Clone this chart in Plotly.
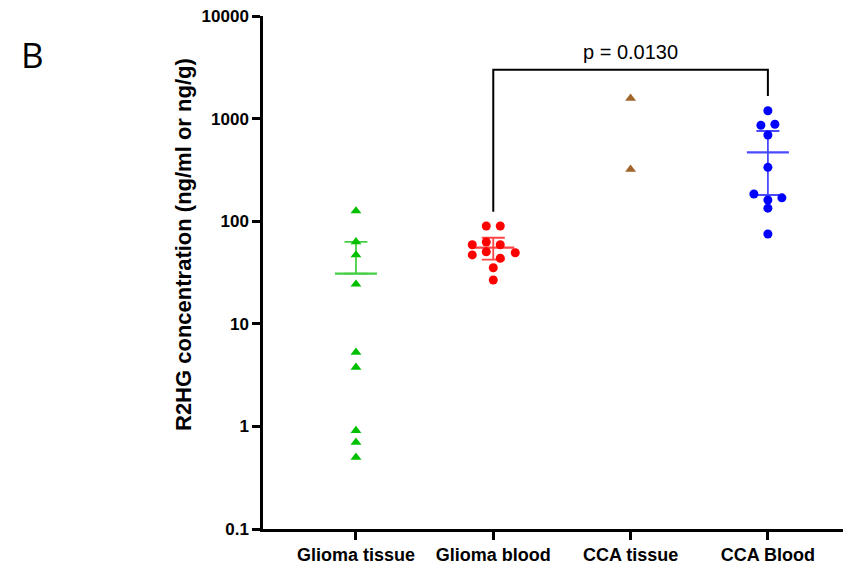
import math
import plotly.graph_objects as go

# ---------------- data ----------------
categories = ["Glioma tissue", "Glioma blood", "CCA tissue", "CCA Blood"]
glioma_tissue = [126, 63, 46.9, 24.3, 5.27, 3.77, 0.91, 0.70, 0.50]
glioma_blood = [89.8, 89.8, 62.7, 59, 59, 50.4, 49.3, 46.9, 43.5, 35.2, 26.7]
cca_tissue = [1577, 320]
cca_blood = [1194, 880, 861, 692, 335, 184, 169, 161, 134, 75]

# mean and 95% CI bounds (None = not drawn)
means = [30.8, 55.2, None, 469]
ci_upper = [63, 69, None, 757]
ci_lower = [None, 42.2, None, 180]

y_tick_values = [0.1, 1, 10, 100, 1000, 10000]
y_tick_labels = ["0.1", "1", "10", "100", "1000", "10000"]
y_title = "R2HG concentration (ng/ml or ng/g)"
p_label = "p = 0.0130"
panel_label = "B"

# ---------------- layout / style ----------------
PX_PER_CAT = 137.3
jitter_px = [
    [0] * len(glioma_tissue),
    [-7, 7, -7, -21, 7, -7, 22, -21, 7, 0, 0],
    [0, 0],
    [0, 7, -7, 0, 0, -14, 14, 0, 0, 0],
]
groups = [glioma_tissue, glioma_blood, cca_tissue, cca_blood]
marker_colors = ["#00C000", "#FF0000", "#A0652A", "#0000FF"]
err_colors = ["#45cf45", "#ff4545", "#A0652A", "#4a4aff"]
symbols = ["triangle-up", "circle", "triangle-up", "circle"]
sizes = [9.5, 9, 9.5, 9]

FONT = "Liberation Sans, Arial, sans-serif"
W, H = 843, 570
L, R, T, B = 263, 0, 16, 41
pw, ph = W - L - R, H - T - B


def px_x(px):
    return (px - L) / pw


def px_y(py):
    return (H - B - py) / ph


fig = go.Figure()

# error bars + mean lines
for i, m in enumerate(means):
    if m is None:
        continue
    up = ci_upper[i] - m
    lo = (m - ci_lower[i]) if ci_lower[i] is not None else 0
    fig.add_trace(go.Scatter(
        x=[i], y=[m], mode="markers",
        marker=dict(symbol="line-ew", size=30,
                    line=dict(color=err_colors[i], width=2.2)),
        error_y=dict(type="data", symmetric=False, array=[up], arrayminus=[lo],
                     color=err_colors[i], thickness=1.8, width=11.5),
        showlegend=False, hoverinfo="skip",
    ))

# points
for i, vals in enumerate(groups):
    xs = [i + j / PX_PER_CAT for j in jitter_px[i]]
    fig.add_trace(go.Scatter(
        x=xs, y=vals, mode="markers",
        marker=dict(symbol=symbols[i], size=sizes[i], color=marker_colors[i],
                    line=dict(width=0)),
        showlegend=False, name=categories[i],
    ))

# significance bracket
br_top = 3000
br_left_bottom = max(glioma_blood) * 1.38
br_right_bottom = max(cca_blood) * 1.39
fig.add_trace(go.Scatter(
    x=[1, 1, 3, 3], y=[br_left_bottom, br_top, br_top, br_right_bottom],
    mode="lines", line=dict(color="black", width=2),
    showlegend=False, hoverinfo="skip",
))

fig.add_annotation(
    x=2, y=math.log10(br_top), xref="x", yref="y",
    text=p_label, showarrow=False, yanchor="bottom", yshift=5,
    font=dict(family=FONT, size=20, color="black"),
)
fig.add_annotation(
    x=px_x(19), y=px_y(54), xref="paper", yref="paper", text=panel_label,
    showarrow=False, xanchor="left", yanchor="middle",
    font=dict(family="Open Sans, " + FONT, size=35, color="black"),
)
fig.add_annotation(
    x=px_x(183), y=px_y(245), xref="paper", yref="paper", text=y_title,
    showarrow=False, textangle=-90, xanchor="center", yanchor="middle",
    font=dict(family=FONT, size=22, color="black", weight="bold"),
)

fig.update_layout(
    width=W, height=H,
    margin=dict(l=L, r=R, t=T, b=B),
    paper_bgcolor="white", plot_bgcolor="white",
    font=dict(family=FONT, color="black"),
    xaxis=dict(
        range=[-0.677, 3.547], tickvals=[0, 1, 2, 3], ticktext=categories,
        showline=True, linecolor="black", linewidth=2.5,
        ticks="outside", ticklen=8, tickwidth=2.5, tickcolor="black",
        tickfont=dict(family=FONT, size=18, color="black", weight="bold"),
        showgrid=False, zeroline=False,
    ),
    yaxis=dict(
        type="log", range=[-1, 4],
        tickvals=y_tick_values, ticktext=y_tick_labels,
        showline=True, linecolor="black", linewidth=2.5,
        ticks="outside", ticklen=8, tickwidth=2.5, tickcolor="black",
        tickfont=dict(family=FONT, size=17, color="black", weight="bold"),
        showgrid=False, zeroline=False,
    ),
)

fig.write_html("out.html")
